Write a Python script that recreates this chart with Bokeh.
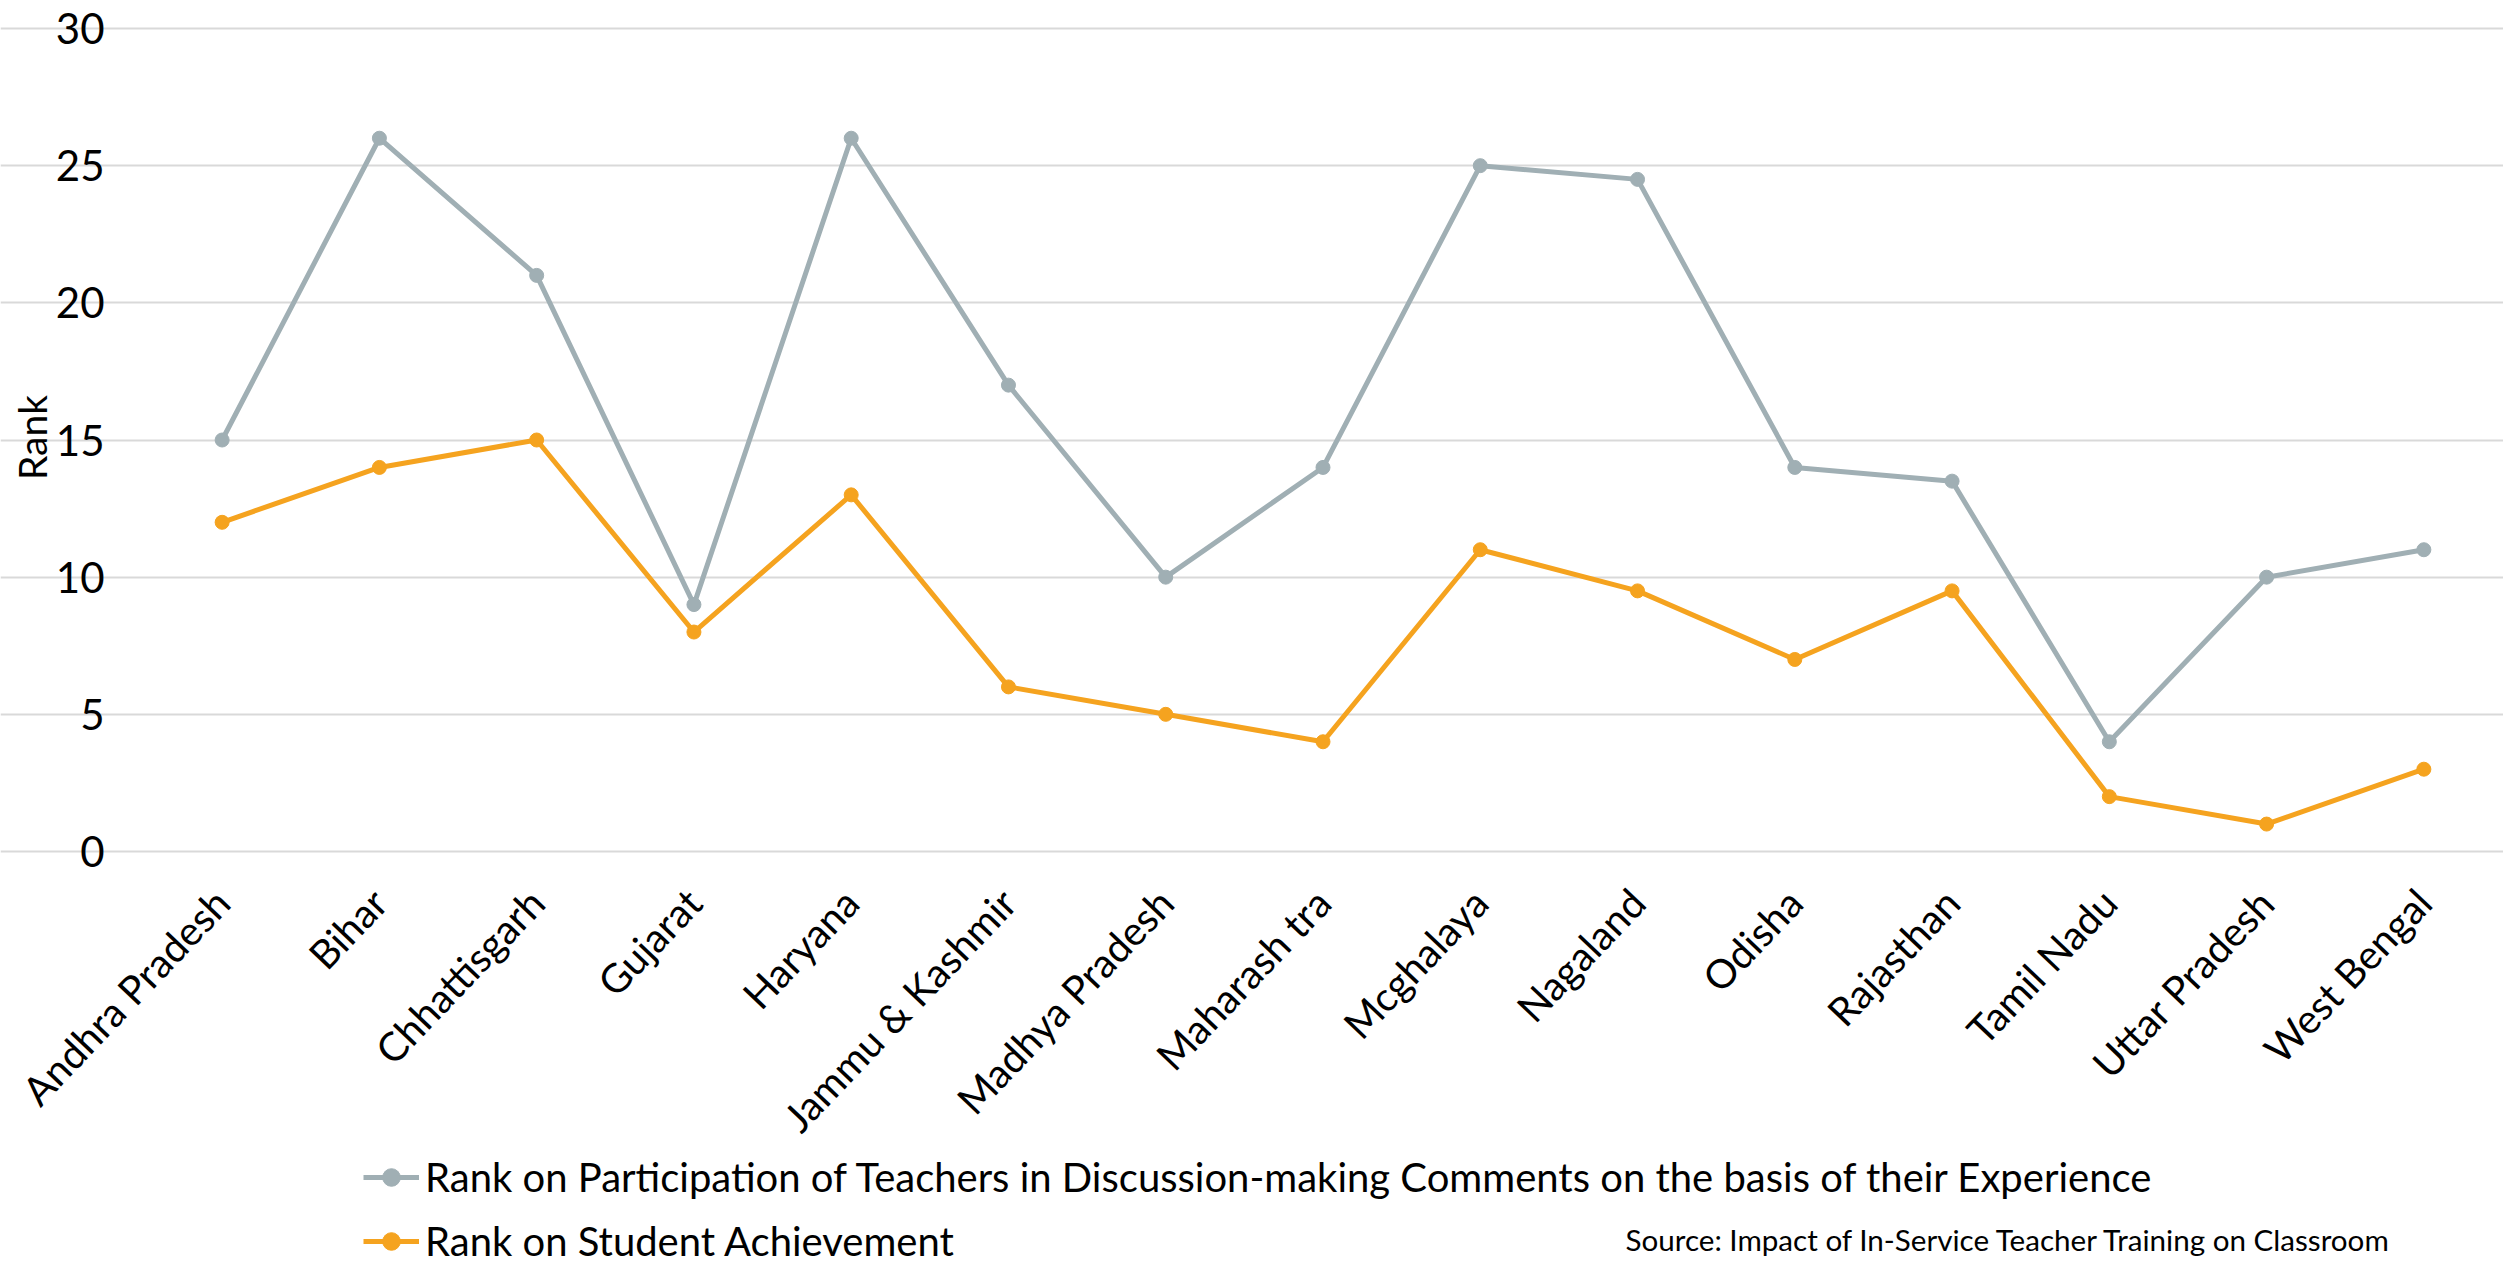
import math
from bokeh.plotting import figure
from bokeh.models import FixedTicker, Legend, LegendItem, Label, Range1d
from bokeh.embed import file_html
from bokeh.resources import INLINE

states = ["Andhra Pradesh", "Bihar", "Chhattisgarh", "Gujarat", "Haryana",
          "Jammu & Kashmir", "Madhya Pradesh", "Maharash tra", "Mcghalaya",
          "Nagaland", "Odisha", "Rajasthan", "Tamil Nadu", "Uttar Pradesh",
          "West Bengal"]
rank_participation = [15, 26, 21, 9, 26, 17, 10, 14, 25, 24.5, 14, 13.5, 4, 10, 11]
rank_achievement = [12, 14, 15, 8, 13, 6, 5, 4, 11, 9.5, 7, 9.5, 2, 1, 3]
y_ticks = [0, 5, 10, 15, 20, 25, 30]

series1_name = "Rank on Participation of Teachers in Discussion-making Comments on the basis of their Experience"
series2_name = "Rank on Student Achievement"
source_text = "Source: Impact of In-Service Teacher Training on Classroom"
y_title = "Rank"

GRAY = "#A0AFB4"
ORANGE = "#F5A31F"
FONT = "Lato"
LW = 5
MS = 14

W, H = 2503, 1265
# plot box (pixels) inside the page
BOX_L, BOX_R, BOX_T, BOX_B = 143, 2502, 28, 851

x_pos = list(range(len(states)))
n = len(states)
px_per_x = (BOX_R - BOX_L) / n
px_per_y = (BOX_B - BOX_T) / (y_ticks[-1] - y_ticks[0])
x_lo = -0.5 - BOX_L / px_per_x
x_hi = n - 0.5 + (W - BOX_R) / px_per_x
y_lo = y_ticks[0] - (H - BOX_B) / px_per_y
y_hi = y_ticks[-1] + BOX_T / px_per_y

p = figure(width=W, height=H, x_range=Range1d(x_lo, x_hi), y_range=Range1d(y_lo, y_hi),
           output_backend="svg", toolbar_location=None, min_border=0,
           outline_line_color=None)

l1 = p.line(x_pos, rank_participation, line_color=GRAY, line_width=LW)
s1 = p.scatter(x_pos, rank_participation, size=MS, fill_color=GRAY, line_color=GRAY)
l2 = p.line(x_pos, rank_achievement, line_color=ORANGE, line_width=LW)
s2 = p.scatter(x_pos, rank_achievement, size=MS, fill_color=ORANGE, line_color=ORANGE)

# y axis drawn at the left edge of the category area
p.yaxis.fixed_location = -0.5
p.yaxis.ticker = FixedTicker(ticks=y_ticks)
p.yaxis.major_label_text_font = FONT
p.yaxis.major_label_text_font_size = "42px"
p.yaxis.major_label_text_color = "black"
p.yaxis.major_label_standoff = 39

# x axis drawn at y = 0 with the state names
p.xaxis.fixed_location = 0
p.xaxis.ticker = FixedTicker(ticks=x_pos)
p.xaxis.major_label_overrides = {i: s for i, s in zip(x_pos, states)}
p.xaxis.major_label_text_font = FONT
p.xaxis.major_label_text_font_size = "40px"
p.xaxis.major_label_text_color = "black"
p.xaxis.major_label_orientation = 0.81
p.xaxis.major_label_standoff = 44

for ax in (p.xaxis, p.yaxis):
    ax.axis_line_color = None
    ax.major_tick_line_color = None
    ax.minor_tick_line_color = None
    ax.major_tick_out = 0
    ax.major_tick_in = 0

p.xgrid.grid_line_color = None
p.ygrid.grid_line_color = "#D9D9D9"
p.ygrid.grid_line_width = 2
p.ygrid.bounds = (-0.5, n - 0.5)

p.add_layout(Label(x=31, y=H - 437, x_units="screen", y_units="screen", text=y_title,
                   angle=math.pi / 2, text_font=FONT, text_font_size="39px",
                   text_color="black", text_align="center", text_baseline="middle"))

legend = Legend(items=[LegendItem(label=series1_name, renderers=[l1, s1]),
                       LegendItem(label=series2_name, renderers=[l2, s2])],
                location=(363, 0), orientation="vertical",
                label_text_font=FONT, label_text_font_size="40px",
                label_text_color="black",
                glyph_width=56, glyph_height=44, label_height=44,
                label_standoff=6, spacing=16, padding=0, margin=0,
                border_line_color=None, background_fill_alpha=0)
p.add_layout(legend)

p.add_layout(Label(x=1625, y=H - 1239, x_units="screen", y_units="screen", text=source_text,
                   text_font=FONT, text_font_size="29.6px", text_color="black",
                   text_baseline="middle"))

open("out.html", "w").write(file_html(p, INLINE))
